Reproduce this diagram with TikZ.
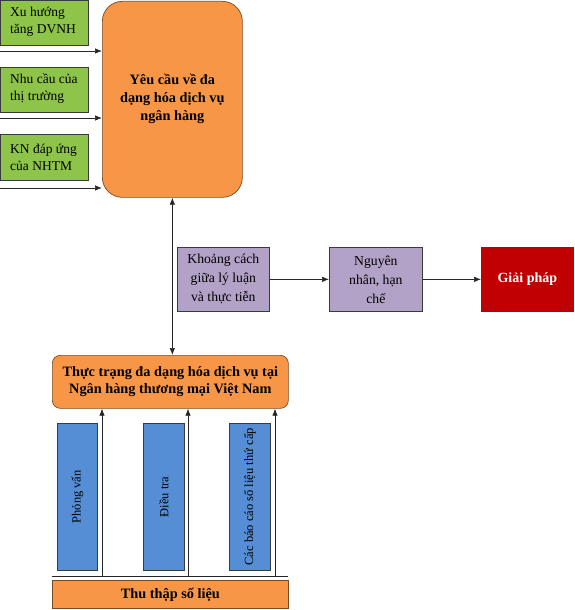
\documentclass[tikz,border=0pt]{standalone}
\usepackage{fontspec}
\setmainfont{Liberation Serif}
\usetikzlibrary{arrows.meta}
\definecolor{cgreen}{HTML}{8DC449}
\definecolor{corange}{HTML}{F79646}
\definecolor{cpurple}{HTML}{B3A2C7}
\definecolor{cred}{HTML}{C00000}
\definecolor{cblue}{HTML}{558ED5}
\definecolor{cborder}{HTML}{3A3A3A}
\definecolor{cobord}{HTML}{7A4A20}
\begin{document}
\begin{tikzpicture}[x=1pt,y=-1pt,
  box/.style={draw=cborder,line width=0.7pt,inner sep=0pt,align=center,anchor=north west},
  gbox/.style={box,fill=cgreen},
  gtext/.style={anchor=west,font=\fontsize{13.5}{17}\selectfont,align=left,inner sep=0pt},
  pbox/.style={box,fill=cpurple,font=\fontsize{13.7}{19}\selectfont},
  obox/.style={box,draw=cobord,fill=corange,font=\bfseries\fontsize{14.3}{18}\selectfont},
  bbox/.style={box,fill=cblue},
  tip/.style={Latex[length=7pt,width=5.5pt]},
  arr/.style={draw=black!85,line width=0.7pt,-{Latex[length=7pt,width=5.5pt]}},
  vtext/.style={rotate=90,font=\fontsize{12.5}{15}\selectfont,inner sep=0pt}]
\useasboundingbox (0,0) rectangle (575,610);
% green boxes
\node[gbox,minimum width=88,minimum height=45] (g1) at (0,0) {};
\node[gtext] (t1) at (10,22) {Xu hướng\\tăng DVNH};
\node[gbox,minimum width=88,minimum height=45] (g2) at (0,67) {};
\node[gtext] (t2) at (10,89) {Nhu cầu của\\thị trường};
\node[gbox,minimum width=88,minimum height=46] (g3) at (0,134) {};
\node[gtext] (t3) at (10,157) {KN đáp ứng\\của NHTM};
% big orange
\node[obox,rounded corners=20pt,minimum width=140,minimum height=196] (yc) at (102,1) {Yêu cầu về đa\\dạng hóa dịch vụ\\ngân hàng};
\coordinate (a1) at (0,51);
\coordinate (a2) at (0,118);
\coordinate (a3) at (0,188);
\draw[arr] (a1) -- (a1 -| yc.west);
\draw[arr] (a2) -- (a2 -| yc.west);
\draw[arr] (a3) -- (a3 -| yc.west);
% purple and red
\node[pbox,minimum width=92,minimum height=64] (p1) at (177,247) {Khoảng cách\\giữa lý luận\\và thực tiễn};
\node[pbox,minimum width=93,minimum height=64] (p2) at (329,247) {Nguyên\\nhân, hạn\\chế};
\node[box,fill=cred,text=white,font=\bfseries\fontsize{14}{18}\selectfont,minimum width=92,minimum height=64] (gp) at (481,247) {Giải pháp};
\draw[arr] (p1) -- (p2);
\draw[arr] (p2) -- (gp);
% second orange
\node[obox,rounded corners=8pt,minimum width=236,minimum height=53,font=\bfseries\fontsize{14.3}{17.5}\selectfont] (tt) at (52,355) {Thực trạng đa dạng hóa dịch vụ tại\\Ngân hàng thương mại Việt Nam};
\draw[draw=black!85,line width=0.7pt,{Latex[length=7pt,width=5.5pt]}-{Latex[length=7pt,width=5.5pt]}] (yc.south) -- (tt.north -| yc.south);
% blue boxes
\node[bbox,minimum width=40,minimum height=147] (b1) at (57,423) {};
\node[vtext] at (b1.center) {Phỏng vấn};
\node[bbox,minimum width=41,minimum height=147] (b2) at (143,423) {};
\node[vtext] at (b2.center) {Điều tra};
\node[bbox,minimum width=41,minimum height=147] (b3) at (229,423) {};
\node[vtext] at (b3.center) {Các báo cáo số liệu thứ cấp};
% bottom
\node[obox,minimum width=236,minimum height=28] (th) at (52,580) {Thu thập số liệu};
\coordinate (hl) at (52,576);
\coordinate (hr) at (288,576);
\draw[draw=black!85,line width=0.7pt] (hl) -- (hr);
\coordinate (u1) at (102,576);
\coordinate (u2) at (188,576);
\coordinate (u3) at (275,576);
\draw[arr] (u1) -- (u1 |- tt.south);
\draw[arr] (u2) -- (u2 |- tt.south);
\draw[arr] (u3) -- (u3 |- tt.south);
\end{tikzpicture}
\end{document}
